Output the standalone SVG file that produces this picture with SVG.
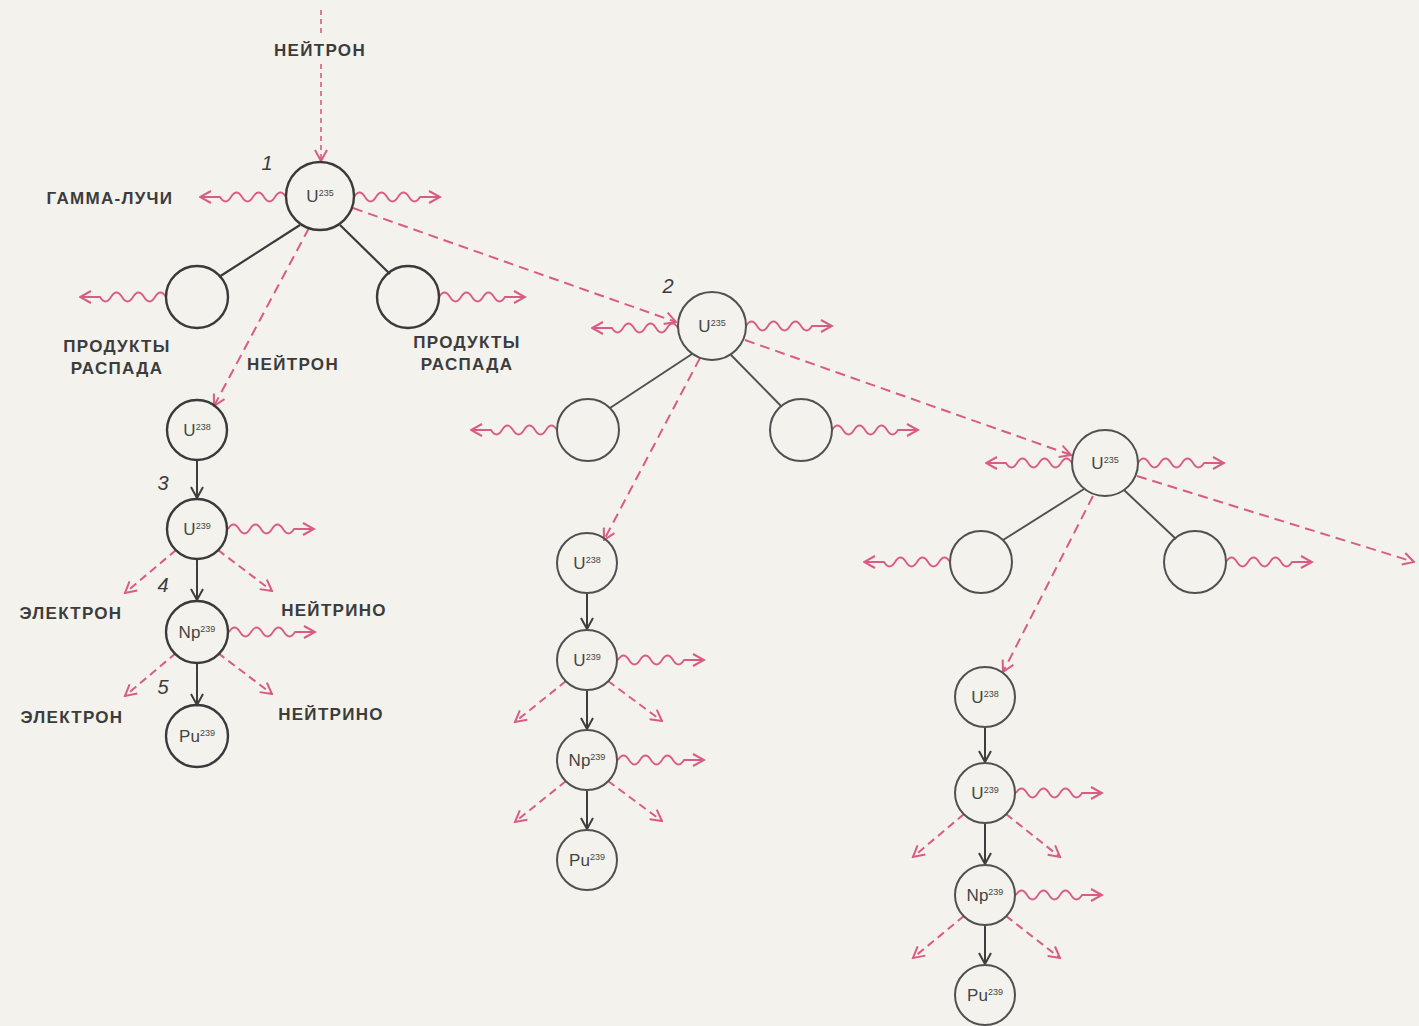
<svg xmlns="http://www.w3.org/2000/svg" xmlns:xlink="http://www.w3.org/1999/xlink" width="1419" height="1026" viewBox="0 0 1419 1026">
  <style>
    .bg { fill: #f3f2ec; }
    .node circle { fill: none; stroke: #3a3a3a; stroke-width: 2.4; }
    .node.light circle { stroke: #505050; stroke-width: 2; }
    .node text { font-family: "Liberation Sans", Arial, sans-serif; font-size: 17px; fill: #454545; text-anchor: middle; }
    .node .sup { font-size: 9px; }
    .cap { font-family: "Liberation Sans", Arial, sans-serif; font-size: 17px; font-weight: bold; fill: #3c3c3c; letter-spacing: 1.3px; text-anchor: middle; }
    .num { font-family: "Liberation Sans", Arial, sans-serif; font-size: 20px; font-style: italic; fill: #3c3c3c; text-anchor: middle; }
    .link { stroke: #3a3a3a; stroke-width: 2.2; fill: none; }
    .link.light { stroke: #505050; stroke-width: 1.9; }
    .step { stroke: #3e3e3e; stroke-width: 2; fill: none; marker-end: url(#arrowDark); }
    .neutron { stroke: #d95c84; stroke-width: 2; fill: none; stroke-dasharray: 10 6; marker-end: url(#arrowPink); }
    .fine { stroke-dasharray: 5 4; stroke-width: 1.6; }
    .beta { stroke: #d95c84; stroke-width: 2; fill: none; stroke-dasharray: 8 5; marker-end: url(#arrowPink); }
  </style>
  <defs>
    <marker id="arrowPink" viewBox="0 0 14 14" refX="12.5" refY="7" markerWidth="14" markerHeight="14" markerUnits="userSpaceOnUse" orient="auto">
      <path d="M1.5,1 L12.5,7 L1.5,13" fill="none" stroke="#d95c84" stroke-width="2"/>
    </marker>
    <marker id="arrowDark" viewBox="0 0 14 14" refX="12.5" refY="7" markerWidth="14" markerHeight="14" markerUnits="userSpaceOnUse" orient="auto">
      <path d="M1.5,1 L12.5,7 L1.5,13" fill="none" stroke="#3e3e3e" stroke-width="2"/>
    </marker>
    <!-- gamma ray: wavy line heading right from the origin -->
    <path id="gamma" d="M0,0 q5.5,-9 11,0 t11,0 t11,0 t11,0 t11,0 t11,0 l20,0" fill="none" stroke="#d95c84" stroke-width="1.8" marker-end="url(#arrowPink)"/>
  </defs>

  <rect class="bg" x="0" y="0" width="1419" height="1026"/>

  <g id="connectors">
    <!-- incoming neutron -->
    <line class="neutron fine" x1="321" y1="10" x2="321" y2="36" style="marker-end:none"/>
    <line class="neutron fine" x1="321" y1="64" x2="321" y2="161"/>

    <!-- fission 1 -->
    <line class="link" x1="300" y1="225" x2="219" y2="277"/>
    <line class="link" x1="340" y1="225" x2="390" y2="274"/>
    <line class="neutron" x1="309" y1="228" x2="214" y2="406"/>
    <line class="neutron" x1="353" y1="208" x2="676" y2="322"/>
    <use xlink:href="#gamma" transform="translate(286,197) scale(-1,1)"/>
    <use xlink:href="#gamma" transform="translate(354,197)"/>
    <use xlink:href="#gamma" transform="translate(166,297) scale(-1,1)"/>
    <use xlink:href="#gamma" transform="translate(439,297)"/>

    <!-- chain 1 -->
    <line class="step" x1="197" y1="461" x2="197" y2="498"/>
    <line class="step" x1="197" y1="560" x2="197" y2="600"/>
    <line class="step" x1="197" y1="663" x2="197" y2="705"/>
    <use xlink:href="#gamma" transform="translate(228,529)"/>
    <use xlink:href="#gamma" transform="translate(229,632)"/>
    <line class="beta" x1="176" y1="550" x2="125" y2="593"/>
    <line class="beta" x1="218" y1="550" x2="272" y2="591"/>
    <line class="beta" x1="176" y1="653" x2="125" y2="696"/>
    <line class="beta" x1="218" y1="653" x2="272" y2="694"/>

    <!-- fission 2 -->
    <line class="link light" x1="692" y1="354" x2="610" y2="408"/>
    <line class="link light" x1="731" y1="355" x2="781" y2="406"/>
    <line class="neutron" x1="700" y1="358" x2="604" y2="540"/>
    <line class="neutron" x1="745" y1="340" x2="1071" y2="455"/>
    <use xlink:href="#gamma" transform="translate(678,328) scale(-1,1)"/>
    <use xlink:href="#gamma" transform="translate(746,326)"/>
    <use xlink:href="#gamma" transform="translate(557,430) scale(-1,1)"/>
    <use xlink:href="#gamma" transform="translate(832,430)"/>

    <!-- chain 2 -->
    <line class="step" x1="587" y1="594" x2="587" y2="629"/>
    <line class="step" x1="587" y1="691" x2="587" y2="729"/>
    <line class="step" x1="587" y1="791" x2="587" y2="829"/>
    <use xlink:href="#gamma" transform="translate(618,660)"/>
    <use xlink:href="#gamma" transform="translate(618,760)"/>
    <line class="beta" x1="566" y1="681" x2="515" y2="722"/>
    <line class="beta" x1="608" y1="681" x2="662" y2="721"/>
    <line class="beta" x1="566" y1="781" x2="515" y2="822"/>
    <line class="beta" x1="608" y1="781" x2="662" y2="821"/>

    <!-- fission 3 -->
    <line class="link light" x1="1084" y1="489" x2="1003" y2="540"/>
    <line class="link light" x1="1124" y1="490" x2="1176" y2="539"/>
    <line class="neutron" x1="1093" y1="496" x2="1003" y2="672"/>
    <line class="neutron" x1="1137" y1="476" x2="1414" y2="562"/>
    <use xlink:href="#gamma" transform="translate(1072,463) scale(-1,1)"/>
    <use xlink:href="#gamma" transform="translate(1138,463)"/>
    <use xlink:href="#gamma" transform="translate(950,562) scale(-1,1)"/>
    <use xlink:href="#gamma" transform="translate(1226,562)"/>

    <!-- chain 3 -->
    <line class="step" x1="985" y1="728" x2="985" y2="762"/>
    <line class="step" x1="985" y1="824" x2="985" y2="864"/>
    <line class="step" x1="985" y1="926" x2="985" y2="964"/>
    <use xlink:href="#gamma" transform="translate(1016,793)"/>
    <use xlink:href="#gamma" transform="translate(1016,895)"/>
    <line class="beta" x1="964" y1="814" x2="913" y2="857"/>
    <line class="beta" x1="1006" y1="814" x2="1060" y2="857"/>
    <line class="beta" x1="964" y1="916" x2="913" y2="958"/>
    <line class="beta" x1="1006" y1="916" x2="1060" y2="958"/>
  </g>

  <!-- nuclei: fission 1 -->
  <g id="u235-1" class="node"><circle cx="320" cy="196" r="34"/><text x="320" y="202">U<tspan class="sup" dy="-6">235</tspan></text></g>
  <g id="frag-1a" class="node"><circle cx="197" cy="297" r="31"/></g>
  <g id="frag-1b" class="node"><circle cx="408" cy="297" r="31"/></g>
  <g id="u238-1" class="node"><circle cx="197" cy="430" r="30"/><text x="197" y="436">U<tspan class="sup" dy="-6">238</tspan></text></g>
  <g id="u239-1" class="node"><circle cx="197" cy="529" r="30"/><text x="197" y="535">U<tspan class="sup" dy="-6">239</tspan></text></g>
  <g id="np239-1" class="node"><circle cx="197" cy="632" r="31"/><text x="197" y="638">Np<tspan class="sup" dy="-6">239</tspan></text></g>
  <g id="pu239-1" class="node"><circle cx="197" cy="736" r="31"/><text x="197" y="742">Pu<tspan class="sup" dy="-6">239</tspan></text></g>

  <!-- nuclei: fission 2 -->
  <g id="u235-2" class="node light"><circle cx="712" cy="326" r="34"/><text x="712" y="332">U<tspan class="sup" dy="-6">235</tspan></text></g>
  <g id="frag-2a" class="node light"><circle cx="588" cy="430" r="31"/></g>
  <g id="frag-2b" class="node light"><circle cx="801" cy="430" r="31"/></g>
  <g id="u238-2" class="node light"><circle cx="587" cy="563" r="30"/><text x="587" y="569">U<tspan class="sup" dy="-6">238</tspan></text></g>
  <g id="u239-2" class="node light"><circle cx="587" cy="660" r="30"/><text x="587" y="666">U<tspan class="sup" dy="-6">239</tspan></text></g>
  <g id="np239-2" class="node light"><circle cx="587" cy="760" r="30"/><text x="587" y="766">Np<tspan class="sup" dy="-6">239</tspan></text></g>
  <g id="pu239-2" class="node light"><circle cx="587" cy="860" r="30"/><text x="587" y="866">Pu<tspan class="sup" dy="-6">239</tspan></text></g>

  <!-- nuclei: fission 3 -->
  <g id="u235-3" class="node light"><circle cx="1105" cy="463" r="33"/><text x="1105" y="469">U<tspan class="sup" dy="-6">235</tspan></text></g>
  <g id="frag-3a" class="node light"><circle cx="981" cy="562" r="31"/></g>
  <g id="frag-3b" class="node light"><circle cx="1195" cy="562" r="31"/></g>
  <g id="u238-3" class="node light"><circle cx="985" cy="697" r="30"/><text x="985" y="703">U<tspan class="sup" dy="-6">238</tspan></text></g>
  <g id="u239-3" class="node light"><circle cx="985" cy="793" r="30"/><text x="985" y="799">U<tspan class="sup" dy="-6">239</tspan></text></g>
  <g id="np239-3" class="node light"><circle cx="985" cy="895" r="30"/><text x="985" y="901">Np<tspan class="sup" dy="-6">239</tspan></text></g>
  <g id="pu239-3" class="node light"><circle cx="985" cy="995" r="30"/><text x="985" y="1001">Pu<tspan class="sup" dy="-6">239</tspan></text></g>

  <g id="labels">
    <text class="cap" x="320" y="56">НЕЙТРОН</text>
    <text class="cap" x="110" y="204">ГАММА-ЛУЧИ</text>
    <text class="cap" x="117" y="352">ПРОДУКТЫ</text>
    <text class="cap" x="117" y="374">РАСПАДА</text>
    <text class="cap" x="293" y="370">НЕЙТРОН</text>
    <text class="cap" x="467" y="348">ПРОДУКТЫ</text>
    <text class="cap" x="467" y="370">РАСПАДА</text>
    <text class="cap" x="71" y="619">ЭЛЕКТРОН</text>
    <text class="cap" x="334" y="616">НЕЙТРИНО</text>
    <text class="cap" x="72" y="723">ЭЛЕКТРОН</text>
    <text class="cap" x="331" y="720">НЕЙТРИНО</text>
    <text class="num" x="267" y="170">1</text>
    <text class="num" x="668" y="293">2</text>
    <text class="num" x="163" y="490">3</text>
    <text class="num" x="163" y="592">4</text>
    <text class="num" x="163" y="694">5</text>
  </g>
</svg>
